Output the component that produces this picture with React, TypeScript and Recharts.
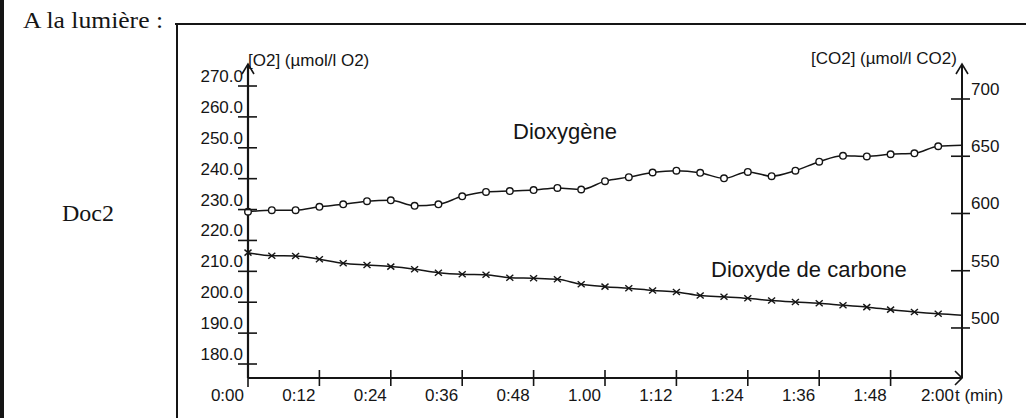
import React from 'react';
import { ComposedChart, Line, XAxis, YAxis } from 'recharts';

// ---- data ----
const times = [0, 4, 8, 12, 16, 20, 24, 28, 32, 36, 40, 44, 48, 52, 56, 60, 64, 68, 72, 76, 80, 84, 88, 92, 96, 100, 104, 108, 112, 116, 120];
const o2Values = [229.3, 229.8, 229.8, 230.9, 231.7, 232.7, 233.0, 231.2, 231.7, 234.3, 235.7, 236.0, 236.3, 237.0, 236.5, 239.2, 240.5, 242.0, 242.6, 241.9, 240.1, 242.2, 240.8, 242.6, 245.5, 247.4, 247.2, 247.9, 248.2, 250.5, 250.8];
const co2Values = [565.8, 563.1, 562.9, 560.0, 556.5, 555.0, 553.6, 551.3, 548.3, 546.9, 546.5, 543.9, 543.4, 542.5, 538.2, 536.1, 534.7, 532.8, 531.5, 528.4, 527.2, 525.9, 524.0, 522.7, 521.6, 519.8, 518.2, 516.0, 514.0, 512.4, 511.2];
const xTicks = [0, 12, 24, 36, 48, 60, 72, 84, 96, 108, 120];
const xTickLabels = ['0:00', '0:12', '0:24', '0:36', '0:48', '1.00', '1:12', '1:24', '1:36', '1:48', '2:00'];
const o2Ticks = [180, 190, 200, 210, 220, 230, 240, 250, 260, 270];
const co2Ticks = [500, 550, 600, 650, 700];

const data = times.map((t, i) => ({ t, o2: o2Values[i], co2: co2Values[i] }));

const INK = '#151515';
const SANS = '"Liberation Sans", Arial, sans-serif';
const SERIF = '"Liberation Serif", "Times New Roman", serif';
const LAST = times.length - 1;

const LeftTick = (p: any) => {
  const { x, y, payload } = p;
  return (
    <g>
      <line x1={x - 10} x2={x + 9} y1={y} y2={y} stroke={INK} strokeWidth={1.6} />
      <text x={x - 5} y={y - 4} textAnchor="end" fontFamily={SANS} fontSize={17} fill={INK}>
        {Number(payload.value).toFixed(1)}
      </text>
    </g>
  );
};

const RightTick = (p: any) => {
  const { x, y, payload } = p;
  return (
    <g>
      <line x1={x - 11} x2={x + 8} y1={y} y2={y} stroke={INK} strokeWidth={1.6} />
      <text x={x + 9} y={y - 4} textAnchor="start" fontFamily={SANS} fontSize={17} fill={INK}>
        {String(payload.value)}
      </text>
    </g>
  );
};

const BottomTick = (p: any) => {
  const { x, y, payload } = p;
  const v = payload.value;
  const label = xTickLabels[xTicks.indexOf(v)];
  const isFirst = v === xTicks[0];
  const isLast = v === xTicks[xTicks.length - 1];
  return (
    <g>
      {!isFirst && !isLast && (
        <line x1={x} x2={x} y1={y - 8} y2={y + 8} stroke={INK} strokeWidth={1.6} />
      )}
      {isFirst && <line x1={x} x2={x} y1={y} y2={y + 9} stroke={INK} strokeWidth={1.6} />}
      <text x={isLast ? x - 8 : x - 4} y={y + 23} textAnchor="end" fontFamily={SANS} fontSize={17} fill={INK}>
        {label}
      </text>
    </g>
  );
};

const CircleDot = (p: any) => {
  const { cx, cy, index } = p;
  if (index === LAST || cx == null || cy == null) return <g key={`c${index}`} />;
  return <circle key={`c${index}`} cx={cx} cy={cy} r={3.3} fill="#fff" stroke={INK} strokeWidth={1.4} />;
};

const CrossDot = (p: any) => {
  const { cx, cy, index } = p;
  if (index === LAST || cx == null || cy == null) return <g key={`x${index}`} />;
  return (
    <g key={`x${index}`}>
      <line x1={cx - 3.5} x2={cx + 3.5} y1={cy - 3} y2={cy + 3} stroke={INK} strokeWidth={1.4} />
      <line x1={cx - 3.5} x2={cx + 3.5} y1={cy + 3} y2={cy - 3} stroke={INK} strokeWidth={1.4} />
    </g>
  );
};

export default function App() {
  return (
    <div style={{ position: 'absolute', left: 0, top: 0, width: 1026, height: 418, background: '#fff', overflow: 'hidden' }}>
      <ComposedChart
        width={1026}
        height={418}
        data={data}
        margin={{ top: 65, right: 4, bottom: 0, left: 188 }}
      >
        <XAxis
          type="number"
          dataKey="t"
          domain={[0, 120]}
          ticks={xTicks}
          interval={0}
          height={40}
          tickSize={0}
          tickMargin={0}
          tickLine={false}
          axisLine={{ stroke: INK, strokeWidth: 2 }}
          tick={(p: any) => <BottomTick {...p} />}
        />
        <YAxis
          yAxisId="left"
          type="number"
          domain={[175.47, 276.8]}
          allowDataOverflow
          ticks={o2Ticks}
          interval={0}
          width={60}
          tickSize={0}
          tickMargin={0}
          tickLine={false}
          axisLine={{ stroke: INK, strokeWidth: 2.2 }}
          tick={(p: any) => <LeftTick {...p} />}
        />
        <YAxis
          yAxisId="right"
          orientation="right"
          type="number"
          domain={[456.3, 729.7]}
          allowDataOverflow
          ticks={co2Ticks}
          interval={0}
          width={60}
          tickSize={0}
          tickMargin={0}
          tickLine={false}
          axisLine={{ stroke: INK, strokeWidth: 2 }}
          tick={(p: any) => <RightTick {...p} />}
        />
        <Line
          yAxisId="left"
          dataKey="o2"
          type="monotone"
          stroke={INK}
          strokeWidth={1.5}
          dot={(p: any) => <CircleDot {...p} />}
          activeDot={false}
          isAnimationActive={false}
        />
        <Line
          yAxisId="right"
          dataKey="co2"
          type="monotone"
          stroke={INK}
          strokeWidth={1.5}
          dot={(p: any) => <CrossDot {...p} />}
          activeDot={false}
          isAnimationActive={false}
        />
      </ComposedChart>
      <svg
        width={1026}
        height={418}
        style={{ position: 'absolute', left: 0, top: 0, pointerEvents: 'none' }}
      >
        {/* page frame */}
        <rect x={0} y={0} width={4} height={418} fill={INK} />
        <line x1={175} x2={1026} y1={24} y2={24} stroke={INK} strokeWidth={2} />
        <line x1={177} x2={177} y1={23} y2={418} stroke={INK} strokeWidth={2} />
        {/* page texts */}
        <text x={23} y={28} fontFamily={SERIF} fontSize={24} fill={INK} textLength={140} lengthAdjust="spacingAndGlyphs">
          A la lumière :
        </text>
        <text x={62} y={221} fontFamily={SERIF} fontSize={24} fill={INK}>
          Doc2
        </text>
        {/* axis arrows */}
        <polyline points="242,74 248,64 254,74" fill="none" stroke={INK} strokeWidth={1.6} />
        <polyline points="956,74 962,64 968,74" fill="none" stroke={INK} strokeWidth={1.6} />
        <polyline points="955,371 962,378 955,385" fill="none" stroke={INK} strokeWidth={1.6} />
        {/* axis titles */}
        <text x={248} y={66} fontFamily={SANS} fontSize={17} fill={INK}>[O2] (µmol/l O2)</text>
        <text x={811} y={64} fontFamily={SANS} fontSize={17} fill={INK}>[CO2] (µmol/l CO2)</text>
        <text x={955} y={401} fontFamily={SANS} fontSize={17} fill={INK}>t (min)</text>
        {/* series labels */}
        <text x={513} y={139} fontFamily={SANS} fontSize={22} fill={INK}>Dioxygène</text>
        <text x={711} y={277} fontFamily={SANS} fontSize={22} fill={INK}>Dioxyde de carbone</text>
      </svg>
    </div>
  );
}
